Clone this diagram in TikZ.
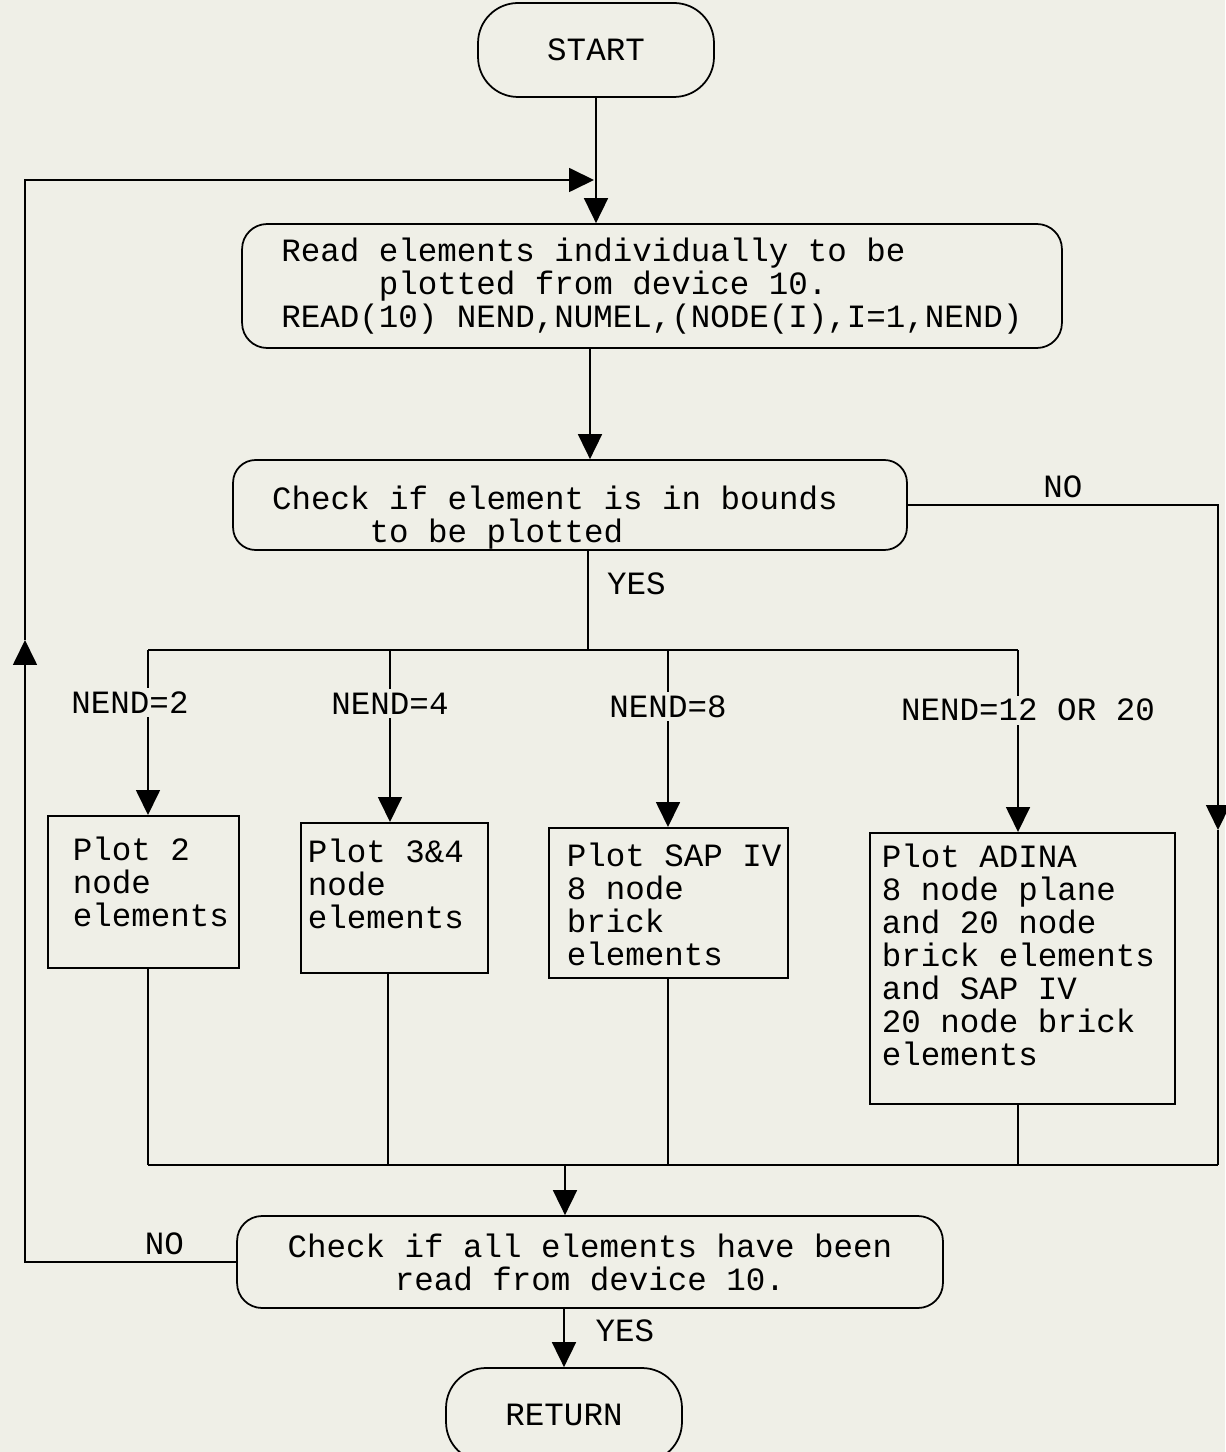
\documentclass[tikz,border=0pt]{standalone}
\usepackage{fontspec}
\setmonofont{Liberation Mono}
\usetikzlibrary{arrows.meta}

\definecolor{paper}{RGB}{239,239,231}
% width, height, top gap, left gap, lines
\newcommand{\boxlines}[5]{\parbox[c][#2][t]{#1}{\leftskip=#4\vspace*{#3}#5}}

\tikzset{
  every node/.style={font=\ttfamily\fontsize{18.5}{18.8}\selectfont},
  term/.style={draw, rectangle, rounded corners=0.8cm, minimum width=4.72cm, minimum height=1.88cm},
  decision/.style={draw, rectangle, rounded corners=0.45cm},
  plotbox/.style={draw, rectangle, anchor=north west, inner sep=0pt},
  lbl/.style={fill=paper, inner sep=2pt},
  arr/.style={-{Triangle[length=0.5cm,width=0.48cm]}}
}

\begin{document}
\begin{tikzpicture}[x=0.02cm, y=-0.02cm, line width=1pt]
\useasboundingbox (0,0) rectangle (1225,1452);
\fill[paper] (0,0) rectangle (1225,1452);
% boxes
\node[term] (start) at (596,50) {START};
\node[decision, rounded corners=0.5cm, minimum width=16.4cm, minimum height=2.48cm, align=left] (read) at (652,286)
  {Read elements individually to be\\\hspace*{3em}plotted from device 10.\\READ(10) NEND,NUMEL,(NODE(I),I=1,NEND)};
\node[decision, inner sep=0pt] (inbounds) at (570,505)
  {\boxlines{13.48cm}{1.8cm}{0.52cm}{0.78cm}{Check if element is in bounds\\\hspace*{3em}to be plotted}};
\node[plotbox] (p2) at (47,815) {\boxlines{3.82cm}{3.04cm}{0.42cm}{0.5cm}{Plot 2\\node\\elements}};
\node[plotbox] (p4) at (300,822) {\boxlines{3.74cm}{3.0cm}{0.32cm}{0.14cm}{Plot 3\&4\\node\\elements}};
\node[plotbox] (p8) at (548,827) {\boxlines{4.78cm}{3.0cm}{0.3cm}{0.36cm}{Plot SAP IV\\8 node\\brick\\elements}};
\node[plotbox] (p12) at (869,832) {\boxlines{6.1cm}{5.42cm}{0.22cm}{0.24cm}{Plot ADINA\\8 node plane\\and 20 node\\brick elements\\and SAP IV\\20 node brick\\elements}};
\node[decision, rounded corners=0.5cm, minimum width=14.12cm, minimum height=1.84cm, align=center] (alldone) at (590,1262)
  {Check if all elements have been\\read from device 10.};
\node[term] (return) at (564,1415) {RETURN};

% junction points
\coordinate (loopin) at (594,180);
\coordinate (loopup) at (25,640);
\coordinate (nodown) at (1218,830);
\coordinate (midx) at (590,400);
\coordinate (busT) at (588,650);
\coordinate (t2) at (148,650);
\coordinate (t4) at (390,650);
\coordinate (t8) at (668,650);
\coordinate (t12) at (1018,650);
\coordinate (b2) at (148,1165);
\coordinate (b4) at (388,1165);
\coordinate (b8) at (668,1165);
\coordinate (b12) at (1018,1165);
\coordinate (busR) at (1218,1165);
\coordinate (bmid) at (565,1165);

% main line
\draw[arr] (start.south) -- (start.south |- read.north);
\draw[arr] (midx |- read.south) -- (midx |- inbounds.north);
\draw (busT |- inbounds.south) -- node[pos=0.33, right=0.25cm]{YES} (busT);
\draw (t2) -- (t12);
\draw[arr] (t2) -- node[lbl, pos=0.32, xshift=-0.36cm]{NEND=2} (t2 |- p2.north);
\draw[arr] (t4) -- node[lbl, pos=0.31]{NEND=4} (t4 |- p4.north);
\draw[arr] (t8) -- node[lbl, pos=0.32]{NEND=8} (t8 |- p8.north);
\draw[arr] (t12) -- node[lbl, pos=0.33, xshift=0.2cm]{NEND=12 OR 20} (t12 |- p12.north);
% out of bounds
\draw[arr] (inbounds.east) -| node[pos=0.25, above]{NO} (nodown);
\draw (nodown) -- (busR);
% collect
\draw (b2 |- p2.south) -- (b2);
\draw (b4 |- p4.south) -- (b4);
\draw (b8 |- p8.south) -- (b8);
\draw (b12 |- p12.south) -- (b12);
\draw (b2) -- (busR);
\draw[arr] (bmid) -- (bmid |- alldone.north);
\draw[arr] (return.north |- alldone.south) -- node[pos=0.375, right=0.5cm]{YES} (return.north);
% loop back
\draw[arr] (alldone.west) -| node[pos=0.17, above]{NO} (loopup);
\draw[arr] (loopup) |- (loopin);
\end{tikzpicture}
\end{document}
